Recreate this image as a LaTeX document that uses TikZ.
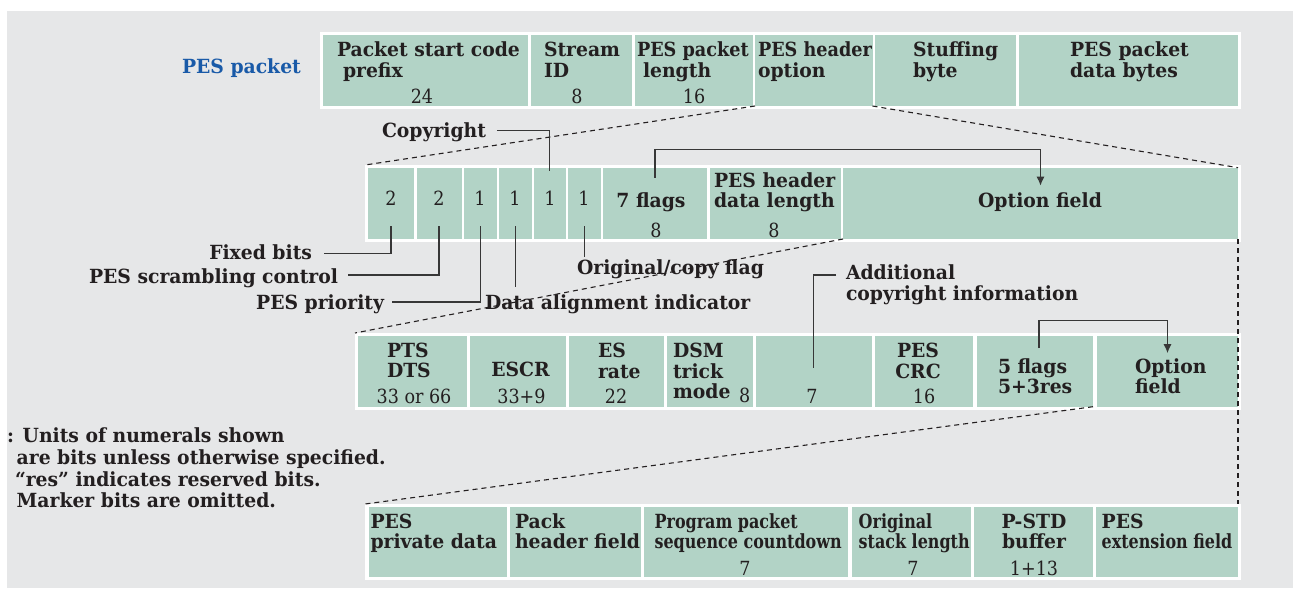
\documentclass[tikz,border=0pt]{standalone}
\usepackage{fontspec}
\usetikzlibrary{arrows.meta,calc}

\newfontfamily\labelfont{DejaVuSerifCondensed-Bold.ttf}[FakeStretch=1.07]
\newfontfamily\numfont{DejaVuSerifCondensed.ttf}

\definecolor{panelgray}{RGB}{230,231,232}
\definecolor{cellgreen}{RGB}{178,211,198}
\definecolor{ink}{RGB}{35,31,32}
\definecolor{pesblue}{RGB}{25,90,168}
\definecolor{leadgray}{RGB}{55,55,55}

\tikzset{
  rowframe/.style={fill=white, draw=none},
  fieldcell/.style={fill=cellgreen, draw=none},
  txt/.style={inner sep=0pt, outer sep=0pt, text=ink, font=\fontsize{19.5}{22}\labelfont},
  numtxt/.style={inner sep=0pt, outer sep=0pt, text=ink, font=\fontsize{19.5}{22}\numfont},
  narrow/.style={xscale=0.94, transform shape},
  condensed/.style={xscale=0.85, transform shape},
  leader/.style={draw=leadgray, line width=1.3pt},
  zoomline/.style={draw=ink, line width=1.1pt, dash pattern=on 5pt off 4pt},
  arrowtip/.style={-{Latex[length=9pt,width=8pt]}}
}

% box given by its left, right, top and bottom edges
\newcommand\boxat[6]{\node[#1, anchor=north west, inner sep=0pt, outer sep=0pt,
  minimum width={#4pt-#3pt}, minimum height={#6pt-#5pt}] (#2) at (#3,#5) {};}
% one line of text on a baseline: left, centred, right
\newcommand\txl[5][txt]{\node[#1, anchor=base west] (#2) at (#3,#4) {#5};}
\newcommand\txc[5][txt]{\node[#1, anchor=base] (#2) at (#3,#4) {#5};}
\newcommand\txr[5][txt]{\node[#1, anchor=base east] (#2) at (#3,#4) {#5};}

\begin{document}
\begin{tikzpicture}[x=1pt, y=-1pt]
\useasboundingbox (0,0) rectangle (1293,589);
\fill[panelgray] (7,11) rectangle (1293,588);

% ---------------- PES packet ----------------
\txl[txt, text=pesblue]{pestitle}{182}{73}{PES packet}
\boxat{rowframe}{row1}{320}{1240.5}{32}{108.5}
\boxat{fieldcell}{psc}{323}{528}{34.5}{106}
\boxat{fieldcell}{sid}{531}{632}{34.5}{106}
\boxat{fieldcell}{plen}{634.5}{752.5}{34.5}{106}
\boxat{fieldcell}{hopt}{755}{872.5}{34.5}{106}
\boxat{fieldcell}{stuff}{875}{1016}{34.5}{106}
\boxat{fieldcell}{pdata}{1019}{1238}{34.5}{106}

\txl{psc-a}{337}{56}{Packet start code}
\txl{psc-b}{343}{77}{prefix}
\txc[numtxt]{psc-n}{422}{103}{24}
\txl{sid-a}{544}{56}{Stream}
\txl{sid-b}{544}{77}{ID}
\txc[numtxt]{sid-n}{577}{103}{8}
\txl[txt,narrow]{plen-a}{637}{56}{PES packet}
\txl{plen-b}{643}{77}{length}
\txc[numtxt]{plen-n}{694}{103}{16}
\txl[txt,narrow]{hopt-a}{758}{56}{PES header}
\txl{hopt-b}{758}{77}{option}
\txl{stuff-a}{913}{56}{Stuffing}
\txl{stuff-b}{913}{77}{byte}
\txl{pdata-a}{1070}{56}{PES packet}
\txl{pdata-b}{1070}{77}{data bytes}

% ---------------- PES header option ----------------
\boxat{rowframe}{row2}{365}{1240.5}{165}{241.5}
\boxat{fieldcell}{fb}{368}{414}{167.7}{239}
\boxat{fieldcell}{sc}{416.5}{461.5}{167.7}{239}
\boxat{fieldcell}{pr}{464}{496.5}{167.7}{239}
\boxat{fieldcell}{da}{499}{531.5}{167.7}{239}
\boxat{fieldcell}{cp}{534}{565.5}{167.7}{239}
\boxat{fieldcell}{oc}{568}{600.5}{167.7}{239}
\boxat{fieldcell}{flg7}{603}{707}{167.7}{239}
\boxat{fieldcell}{hdl}{709.5}{840.5}{167.7}{239}
\boxat{fieldcell}{opt2}{843}{1238}{167.7}{239}

\txc[numtxt]{fb-n}{391}{205}{2}
\txc[numtxt]{sc-n}{439}{205}{2}
\txc[numtxt]{pr-n}{480}{205}{1}
\txc[numtxt]{da-n}{515}{205}{1}
\txc[numtxt]{cp-n}{550}{205}{1}
\txc[numtxt]{oc-n}{584}{205}{1}
\txc{flg7-a}{651}{207}{7 flags}
\txc[numtxt]{flg7-n}{656}{237}{8}
\txl{hdl-a}{714}{187.5}{PES header}
\txl{hdl-b}{714}{207.5}{data length}
\txc[numtxt]{hdl-n}{774}{237}{8}
\txc{opt2-a}{1040}{207.5}{Option field}

\txl{copyr}{382}{137}{Copyright}
\txr{fixed}{312}{259.5}{Fixed bits}
\txr{scram}{338}{283}{PES scrambling control}
\txr{prio}{384}{309}{PES priority}
\txl{dai}{485}{309}{Data alignment indicator}
\txl{ocf}{577}{274}{Original/copy flag}
\txl{addl-a}{846}{279}{Additional}
\txl{addl-b}{846}{300}{copyright information}

% ---------------- option field ----------------
\boxat{rowframe}{row3}{355}{1240.5}{333}{409.5}
\boxat{fieldcell}{ptsdts}{358}{466.5}{335.7}{406.7}
\boxat{fieldcell}{escr}{469.5}{565.5}{335.7}{406.7}
\boxat{fieldcell}{esr}{568.5}{664}{335.7}{406.7}
\boxat{fieldcell}{dsm}{667}{752.5}{335.7}{406.7}
\boxat{fieldcell}{addc}{755.5}{872}{335.7}{406.7}
\boxat{fieldcell}{crc}{875}{973}{335.7}{406.7}
\boxat{fieldcell}{flg5}{977}{1093}{335.7}{406.7}
\boxat{fieldcell}{opt3}{1097}{1238}{335.7}{406.7}

\txl{pts-a}{387}{357}{PTS}
\txl{pts-b}{387}{377}{DTS}
\txc[numtxt]{pts-n}{414}{403}{33 or 66}
\txc{escr-a}{520.5}{376}{ESCR}
\txc[numtxt]{escr-n}{521.5}{403}{33+9}
\txl{esr-a}{598}{357}{ES}
\txl{esr-b}{598}{378}{rate}
\txc[numtxt]{esr-n}{616}{403}{22}
\txl{dsm-a}{673}{357}{DSM}
\txl{dsm-b}{673}{378}{trick}
\txl{dsm-c}{673}{398.3}{mode}
\txl[numtxt]{dsm-n}{739}{402.7}{8}
\txc[numtxt]{addc-n}{812}{403}{7}
\txc{crc-a}{918}{357}{PES}
\txc{crc-b}{918}{378}{CRC}
\txc[numtxt]{crc-n}{924}{403}{16}
\txl{flg5-a}{998}{373}{5 flags}
\txl{flg5-b}{998}{393}{5+3res}
\txl{opt3-a}{1135}{373}{Option}
\txl{opt3-b}{1135}{393}{field}

% ---------------- notes ----------------
\txl{note-a}{7}{442}{: Units of numerals shown}
\txl{note-b}{16.7}{464}{are bits unless otherwise specified.}
\txl{note-c}{15}{486}{“res” indicates reserved bits.}
\txl{note-d}{16.7}{507}{Marker bits are omitted.}

% ---------------- PES extension ----------------
\boxat{rowframe}{row4}{365}{1240.5}{504}{580}
\boxat{fieldcell}{priv}{368.5}{507}{506.5}{577}
\boxat{fieldcell}{pack}{510}{641}{506.5}{577}
\boxat{fieldcell}{ppsc}{643.5}{848}{506.5}{577}
\boxat{fieldcell}{osl}{852}{971}{506.5}{577}
\boxat{fieldcell}{pstd}{974}{1093}{506.5}{577}
\boxat{fieldcell}{ext}{1096}{1238}{506.5}{577}

\txl{priv-a}{370.5}{528}{PES}
\txl{priv-b}{370.5}{548}{private data}
\txl{pack-a}{515}{528}{Pack}
\txl{pack-b}{515}{548}{header field}
\txl[txt,condensed]{ppsc-a}{654.6}{528}{Program packet}
\txl[txt,condensed]{ppsc-b}{654.6}{548}{sequence countdown}
\txc[numtxt]{ppsc-n}{745}{575}{7}
\txl[txt,condensed]{osl-a}{858.7}{528}{Original}
\txl[txt,condensed]{osl-b}{858.7}{548}{stack length}
\txc[numtxt]{osl-n}{913}{575}{7}
\txc{pstd-a}{1034}{528}{P-STD}
\txc{pstd-b}{1034}{548}{buffer}
\txc[numtxt]{pstd-n}{1034}{575}{1+13}
\txl{ext-a}{1101.7}{528}{PES}
\txl[txt,condensed]{ext-b}{1101.7}{548}{extension field}

% ---------------- zoom guides ----------------
\draw[zoomline] (hopt.south west) -- (row2.north west);
\draw[zoomline] (hopt.south east) -- (opt2.north east);
\draw[zoomline] (opt2.south west) -- (row3.north west);
\draw[zoomline] (opt2.south east) -- (opt2.south east |- row4.north);
\draw[zoomline] (flg5.south east) -- (row4.north west);

% ---------------- leaders ----------------
\draw[leader] ([xshift=11pt,yshift=6.5pt]copyr.base east) -| ([yshift=-3pt]cp.north);
\draw[leader] ([xshift=12pt,yshift=6pt]fixed.base east) -| ([yshift=13pt]fb.south);
\draw[leader] ([xshift=10pt,yshift=8pt]scram.base east) -| ([yshift=13pt]sc.south);
\draw[leader] ([xshift=8pt,yshift=7pt]prio.base east) -| ([yshift=13pt]pr.south);
\draw[leader] ([yshift=13pt]da.south) -- ($(da.south |- dai.north)+(0,-7)$);
\draw[leader] ([yshift=13pt]oc.south) -- ($(oc.south |- ocf.north)+(0,-2)$);
\draw[leader] ([xshift=-10pt,yshift=4pt]addl-a.base west) -| ([yshift=-32pt]addc.north);

% ---------------- flag arrows ----------------
\draw[leader, arrowtip] ([yshift=-10pt]flg7.north) -- ++(0,-28) -| ([yshift=-18pt]opt2.north);
\draw[leader, arrowtip] ([xshift=4pt,yshift=-12.5pt]flg5.north) -- ++(0,-28) -| ([yshift=-17.5pt]opt3.north);
\end{tikzpicture}
\end{document}
